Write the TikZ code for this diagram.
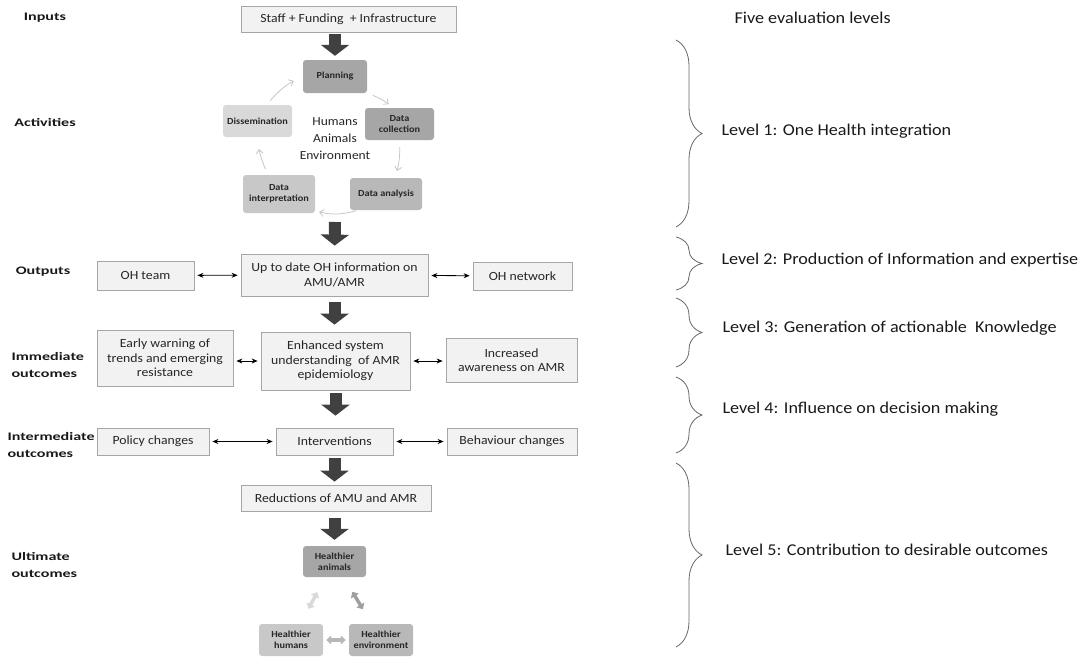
\documentclass[tikz,border=0pt]{standalone}
\usepackage{fontspec}
\setmainfont{Carlito}[FakeStretch=1.1]
\newfontfamily\stagefont{Carlito}[FakeStretch=1.4]
\usepackage{xcolor}
\usetikzlibrary{arrows.meta,positioning,calc,decorations.pathreplacing}

\definecolor{boxfill}{HTML}{F2F2F2}
\definecolor{boxline}{HTML}{A6A6A6}
\definecolor{fatgray}{HTML}{404040}
\definecolor{cycA}{HTML}{A6A6A6}
\definecolor{cycB}{HTML}{B8B8B8}
\definecolor{cycC}{HTML}{C8C8C8}
\definecolor{cycD}{HTML}{D9D9D9}

\begin{document}
\begin{tikzpicture}[
        x=1pt,y=-1pt,
        font=\fontsize{12.5}{14.5}\selectfont,
        >=Stealth,
        box/.style={rectangle,draw=boxline,line width=0.8pt,fill=boxfill,inner sep=2pt,align=center,text=black!85},
        cyc/.style={rectangle,rounded corners=3pt,draw=none,inner sep=1pt,align=center,
            font=\fontsize{9.3}{10.8}\selectfont\bfseries,text=black!85},
        stage/.style={font=\stagefont\fontsize{11.5}{17}\selectfont\bfseries,align=left,text=black!90},
        level/.style={font=\fontsize{16.5}{19}\selectfont,anchor=west,text=black!90},
        fat/.style={-{Triangle[width=28pt,length=11pt]},line width=12pt,draw=fatgray},
        thin/.style={-{Straight Barb[length=4pt,width=7pt]},draw=gray!45,line width=0.8pt},
        both/.style={{Stealth[length=6pt,width=5pt]}-{Stealth[length=6pt,width=5pt]},line width=0.8pt,shorten <=3pt,shorten >=3pt},
        soft/.style={{Triangle[width=9pt,length=5pt]}-{Triangle[width=9pt,length=5pt]},line width=3.5pt},
        curly/.style={decorate,decoration={brace,amplitude=26pt},draw=black!60,line width=0.8pt}
    ]
        \useasboundingbox (0,0) rectangle (1084,664);

        % stages on the left
        \node[stage] (sInputs) at (45,18) {Inputs};
        \node[stage] (sActivities) at (45,122) {Activities};
        \node[stage] (sOutputs) at (43,272) {Outputs};
        \node[stage,anchor=west] (sImmediate) at (8,365) {Immediate\\outcomes};
        \node[stage,anchor=west] (sIntermediate) at (4,445) {Intermediate\\outcomes};
        \node[stage,anchor=west] (sUltimate) at (8,565) {Ultimate\\outcomes};

        % main column
        \node[box,minimum width=215pt,minimum height=26pt] (inputs) at (348.5,19) {Staff + Funding \ + Infrastructure};

        \node[cyc,fill=cycA,minimum width=64pt,minimum height=33pt] (planning) at (335,76.5) {Planning};
        \node[cyc,fill=cycA,minimum width=69pt,minimum height=32pt] (collect) at (399.5,124) {Data\\collection};
        \node[cyc,fill=cycB,minimum width=72pt,minimum height=32pt] (analysis) at (386,194) {Data analysis};
        \node[cyc,fill=cycC,minimum width=72pt,minimum height=38pt] (interp) at (279,194) {Data\\interpretation};
        \node[cyc,fill=cycD,minimum width=69pt,minimum height=32pt] (dissem) at (257.5,121) {Dissemination};
        \node[align=center,font=\fontsize{12.3}{17}\selectfont,text=black!85] (hae) at (335,139) {Humans\\Animals\\Environment};
        \coordinate (cycbot) at (335,222);

        \node[box,minimum width=187pt,minimum height=42pt] (uptodate) at (334.5,275) {Up to date OH information on\\AMU/AMR};
        \node[box,minimum width=97pt,minimum height=29pt] (ohteam) at (145.5,275.5) {OH team};
        \node[box,minimum width=99pt,minimum height=28pt] (ohnet) at (522.5,276) {OH network};

        \node[box,minimum width=149pt,minimum height=58pt] (enhanced) at (335.5,361) {Enhanced system\\understanding \ of AMR\\epidemiology};
        \node[box,minimum width=136pt,minimum height=56pt] (early) at (165,358) {Early warning of\\trends and emerging\\resistance};
        \node[box,minimum width=131pt,minimum height=44pt] (aware) at (511.5,360) {Increased\\awareness on AMR};

        \node[box,minimum width=117pt,minimum height=27pt] (interv) at (334.5,441.5) {Interventions};
        \node[box,minimum width=112pt,minimum height=27pt] (policy) at (153,441.5) {Policy changes};
        \node[box,minimum width=130pt,minimum height=27pt] (behav) at (512,441.5) {Behaviour changes};

        \node[box,minimum width=190pt,minimum height=26pt] (reduct) at (336,498) {Reductions of AMU and AMR};

        \node[cyc,fill=cycA,minimum width=63pt,minimum height=31pt] (animals) at (334.5,561.5) {Healthier\\animals};
        \node[cyc,fill=cycC,minimum width=64pt,minimum height=32pt] (humans) at (291,640) {Healthier\\humans};
        \node[cyc,fill=cycB,minimum width=64pt,minimum height=32pt] (environ) at (381,640) {Healthier\\environment};

        % fat arrows down the column
        \draw[fat,shorten <=2pt,shorten >=4pt] (planning.north |- inputs.south) -- (planning.north);
        \draw[fat,shorten >=8pt] (cycbot) -- (uptodate.north);
        \draw[fat,shorten <=6pt,shorten >=7pt] (uptodate.south) -- (uptodate.south |- enhanced.north);
        \draw[fat,shorten <=3pt,shorten >=12pt] (enhanced.south) -- (enhanced.south |- interv.north);
        \draw[fat,shorten <=3pt,shorten >=3pt] (interv.south) -- (interv.south |- reduct.north);
        \draw[fat,shorten <=7pt,shorten >=6pt] (animals.north |- reduct.south) -- (animals.north);

        % activity cycle
        \draw[thin,shorten <=5pt,shorten >=10pt] (dissem.60) to[bend left=12] (planning.west);
        \draw[thin,shorten <=6pt,shorten >=6pt] (planning.south east) to[bend left=8] (collect.110);
        \draw[thin,shorten <=7pt,shorten >=7pt] (collect.south) to[bend left=8] (analysis.60);
        \draw[thin,shorten <=2pt,shorten >=4pt] (analysis.-150) to[bend left=15] (interp.-25);
        \draw[thin,shorten <=6pt,shorten >=12pt] (interp.120) to[bend left=8] (dissem.south);

        % side links
        \draw[both] (ohteam) -- (uptodate);
        \draw[both] (uptodate) -- (ohnet);
        \draw[both] (early.east |- enhanced) -- (enhanced);
        \draw[both] (enhanced) -- (aware.west |- enhanced);
        \draw[both] (policy) -- (interv);
        \draw[both] (interv) -- (behav);

        % healthier triangle
        \draw[soft,draw=cycD,fill=cycD,shorten <=17pt,shorten >=17pt] (animals.-120) -- (humans.60);
        \draw[soft,draw=gray!75,fill=gray!75,shorten <=17pt,shorten >=17pt] (animals.-60) -- (environ.120);
        \draw[soft,draw=cycB,fill=cycB,shorten <=3pt,shorten >=3pt] (humans) -- (environ);

        % evaluation levels
        \node[level] (title) at (731,18) {Five evaluation levels};
        \draw[curly] (676,40) -- (676,227);
        \node[level] (lvl1) at (718,131) {Level 1: One Health integration};
        \draw[curly] (676,237) -- (676,290);
        \node[level] (lvl2) at (718,260) {Level 2: Production of Information and expertise};
        \draw[curly] (676,298) -- (676,367);
        \node[level] (lvl3) at (719,328) {Level 3: Generation of actionable \ Knowledge};
        \draw[curly] (676,377) -- (676,453);
        \node[level] (lvl4) at (719,409) {Level 4: Influence on decision making};
        \draw[curly] (676,463) -- (676,647);
        \node[level] (lvl5) at (722,550) {Level 5: Contribution to desirable outcomes};
    \end{tikzpicture}
\end{document}
